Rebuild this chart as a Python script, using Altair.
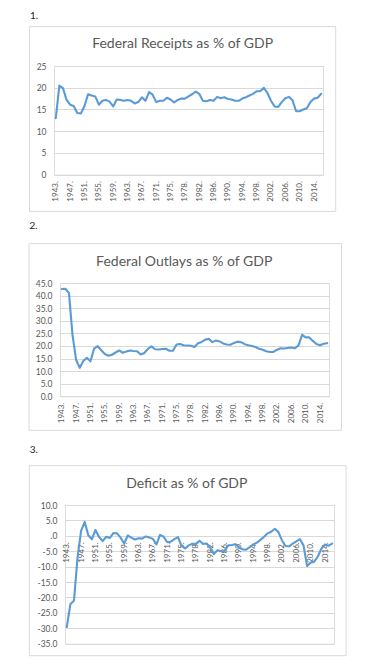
import altair as alt
import pandas as pd

# ---- categories (fiscal years, incl. transition quarter) ----
years = ([str(y) + "." for y in range(1943, 1977)] + ["TQ."] +
         [str(y) + "." for y in range(1977, 2017)])
tick_years = years[::4]

# ---- series values (% of GDP) ----
receipts = [13.0, 20.5, 19.9, 17.2, 16.1, 15.8, 14.2, 14.1, 15.8, 18.5,
            18.2, 18.0, 16.1, 17.0, 17.2, 16.8, 15.7, 17.3, 17.2, 17.0,
            17.2, 17.0, 16.4, 16.7, 17.8, 17.0, 19.0, 18.4, 16.7, 17.0,
            17.0, 17.7, 17.3, 16.6, 17.2, 17.5, 17.5, 18.0, 18.5, 19.1,
            18.6, 17.0, 16.9, 17.2, 17.0, 17.9, 17.6, 17.8, 17.4, 17.3,
            17.0, 17.0, 17.5, 17.8, 18.2, 18.6, 19.2, 19.2, 20.0, 18.8,
            17.0, 15.7, 15.6, 16.7, 17.6, 17.9, 17.1, 14.6, 14.6, 15.0,
            15.3, 16.7, 17.5, 17.7, 18.6]

outlays = [42.6, 42.7, 41.0, 24.2, 14.4, 11.3, 14.0, 15.3, 13.9, 18.9,
           19.9, 18.3, 16.8, 16.1, 16.5, 17.4, 18.2, 17.3, 17.8, 18.2,
           18.0, 17.9, 16.6, 17.2, 18.8, 19.8, 18.7, 18.6, 18.8, 18.9,
           18.1, 18.1, 20.6, 20.8, 20.3, 20.2, 20.1, 19.6, 21.1, 21.6,
           22.5, 22.8, 21.5, 22.2, 21.8, 21.0, 20.6, 20.5, 21.2, 21.7,
           21.5, 20.7, 20.3, 20.0, 19.6, 18.9, 18.5, 17.9, 17.6, 17.6,
           18.5, 19.1, 19.0, 19.2, 19.4, 19.1, 20.2, 24.4, 23.4, 23.4,
           22.0, 20.8, 20.3, 20.9, 21.1]

deficit = [-29.6, -22.2, -21.0, -7.0, 1.7, 4.5, 0.2, -1.1, 1.9, -0.4,
           -1.7, -0.3, -0.7, 0.9, 0.8, -0.6, -2.5, 0.1, -0.6, -1.2,
           -0.8, -0.9, -0.2, -0.5, -1.0, -2.8, 0.3, -0.3, -2.1, -1.9,
           -1.1, -0.4, -3.3, -4.1, -3.1, -2.6, -2.6, -1.6, -2.6, -2.5,
           -3.9, -5.9, -4.7, -5.0, -4.9, -3.1, -3.0, -2.7, -3.7, -4.4,
           -4.5, -3.7, -2.8, -2.2, -1.3, -0.3, 0.8, 1.3, 2.3, 1.2,
           -1.5, -3.3, -3.4, -2.5, -1.8, -1.1, -3.1, -9.8, -8.7, -8.4,
           -6.7, -4.1, -2.8, -3.2, -2.5]

receipts_ticks = [0, 5, 10, 15, 20, 25]
outlays_ticks = [0, 5, 10, 15, 20, 25, 30, 35, 40, 45]
deficit_ticks = [-35, -30, -25, -20, -15, -10, -5, 0, 5, 10]

titles = ["Federal Receipts as % of GDP", "Federal Outlays as % of GDP",
          "Deficit as % of GDP"]
numbers = ["1.", "2.", "3."]

# ---- styling ----
PLOT_W = 269
LINE = "#5B9BD5"
GRID = "#D9D9D9"
TEXT = "#595959"
FONT = "Lato"


def one():
    return pd.DataFrame({"k": [0]})


def panel(values, ticks, title, number, H, box_l, box_r, box_b, title_x,
          title_y, num_x, num_y, ext_top, ext_bot, label_expr, x_offset):
    df = pd.DataFrame({"year": years, "value": values})
    x = alt.X("year:N", sort=years,
              scale=alt.Scale(type="point", domain=years, padding=0.5),
              axis=alt.Axis(title=None, values=tick_years, labelAngle=-90,
                            labelAlign="right", labelBaseline="middle",
                            labelPadding=6, ticks=False, domain=False,
                            grid=False, labelFont=FONT, labelFontSize=8,
                            labelColor=TEXT, offset=x_offset))
    y = alt.Y("value:Q",
              scale=alt.Scale(domain=[ticks[0], ticks[-1]], nice=False,
                              zero=False),
              axis=alt.Axis(title=None, values=ticks, labelExpr=label_expr,
                            grid=True, gridColor=GRID, gridWidth=1,
                            domain=False, ticks=False, labelPadding=8,
                            labelFont=FONT, labelFontSize=8.5,
                            labelColor=TEXT))
    line = alt.Chart(df).mark_line(color=LINE, strokeWidth=2.1,
                                   strokeJoin="round",
                                   strokeCap="round").encode(x=x, y=y)
    ext = alt.Chart(one()).mark_rect(color="white", opacity=0).encode(
        x=alt.value(box_l), x2=alt.value(box_r),
        y=alt.value(ext_top), y2=alt.value(ext_bot))
    box = alt.Chart(one()).mark_rect(fill="transparent", stroke=GRID,
                                     strokeWidth=1).encode(
        x=alt.value(box_l), x2=alt.value(box_r),
        y=alt.value(-39.3), y2=alt.value(box_b))
    ttl = alt.Chart(one()).mark_text(text=title, font=FONT, fontSize=14,
                                     color=TEXT, align="center",
                                     baseline="middle").encode(
        x=alt.value(title_x), y=alt.value(title_y))
    num = alt.Chart(one()).mark_text(text=number, font=FONT, fontSize=10,
                                     color="#222222", align="left",
                                     baseline="middle").encode(
        x=alt.value(num_x), y=alt.value(num_y))
    layer = alt.layer(ext, box, ttl, num, line).properties(width=PLOT_W,
                                                           height=H)
    spacer = alt.Chart(one()).mark_rect(color="white", opacity=0).encode(
        x=alt.value(0), x2=alt.value(18), y=alt.value(0),
        y2=alt.value(1)).properties(
        width=18, height=1,
        view=alt.ViewBackground(stroke="transparent", fill="transparent"))
    return alt.hconcat(spacer, layer, spacing=0)


H1, H2, H3 = 108.7, 113.3, 138.7

p1 = panel(receipts, receipts_ticks, titles[0], numbers[0], H1,
           -24.5, 281.7, 145.4, 128.6, -21.6, -24, -50.3, -57.3, 148.9,
           "format(datum.value, 'd')", 0)
p2 = panel(outlays, outlays_ticks, titles[1], numbers[1], H2,
           -31, 281.5, 147.3, 124.2, -21.4, -30.5, -57, -66, 155.6,
           "format(datum.value, '.1f')", 0)
p3 = panel(deficit, deficit_ticks, titles[2], numbers[2], H3,
           -35.7, 281.1, 150.7, 121.8, -21.3, -35.2, -55.3, -64.5, 151.5,
           "datum.value == 0 ? '.0' : (datum.value < 0 ? '-' : '') + "
           "format(abs(datum.value), '.1f')",
           -(H3 * 35 / 45))

chart = alt.vconcat(p1, p2, p3, spacing=0).properties(
    padding={"left": 0, "top": 0, "right": 0, "bottom": 0},
    background="white"
).configure_view(stroke=None, strokeWidth=0).configure(font=FONT)

chart.save("out.html", embed_options={"renderer": "svg", "actions": False})
